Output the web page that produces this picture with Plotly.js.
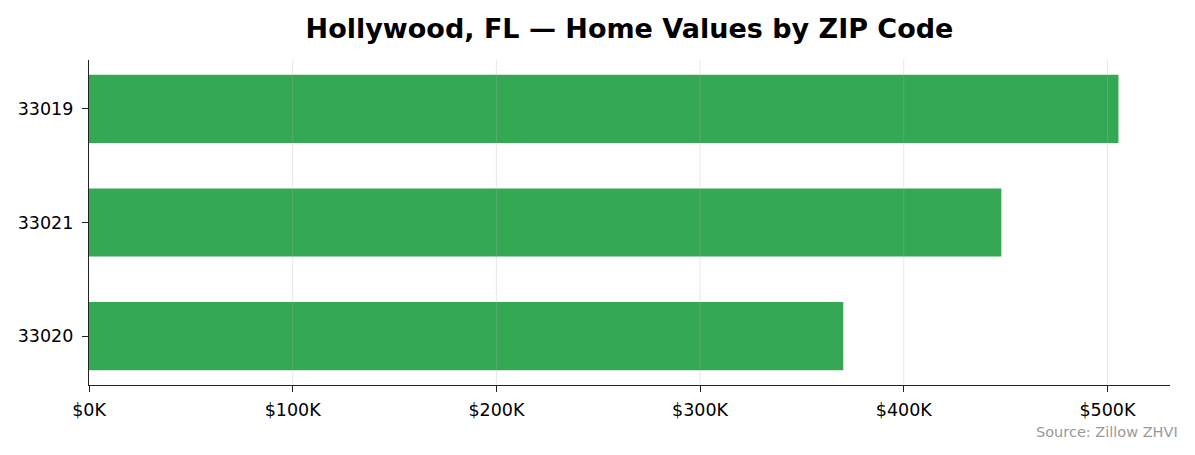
<!DOCTYPE html>
<html>
<head>
<meta charset="utf-8">
<script src="https://cdn.plot.ly/plotly-3.0.1.min.js"></script>
<style>
  html, body { margin: 0; padding: 0; background: #fff; }
  #chart { width: 1195px; height: 455px; }
</style>
</head>
<body>
<div id="chart"></div>
<script>
'use strict';

// ZIP codes, top to bottom as drawn
const zips = ['33019', '33021', '33020'];
// typical home value, dollars
const homeValues = [505400, 447900, 370300];
const tickVals = [0, 100000, 200000, 300000, 400000, 500000];
const tickText = ['$0K', '$100K', '$200K', '$300K', '$400K', '$500K'];

const font = 'DejaVu Sans, sans-serif';

const trace = {
	type: 'bar',
	orientation: 'h',
	y: zips,
	x: homeValues,
	width: 0.6,
	marker: { color: '#34a853' },
	hoverinfo: 'x+y'
};

// grid lines sit on top of the bars, faintly
const gridShapes = tickVals.slice(1).map(function(v) {
	return {
		type: 'line', layer: 'above',
		xref: 'x', yref: 'paper',
		x0: v, x1: v, y0: 0, y1: 1,
		line: { color: 'rgba(176,176,176,0.3)', width: 1 }
	};
});

const layout = {
	width: 1195,
	height: 455,
	margin: { l: 89, r: 25, t: 60, b: 70 },
	paper_bgcolor: '#fff',
	plot_bgcolor: '#fff',
	font: { family: font, size: 17.5, color: '#000' },
	showlegend: false,
	title: {
		text: '<b>Hollywood, FL — Home Values by ZIP Code</b>',
		font: { family: font, size: 27, color: '#000' },
		xref: 'paper', x: 0.5, xanchor: 'center',
		y: 0.938, yanchor: 'middle'
	},
	xaxis: {
		range: [0, 530700],
		tickvals: tickVals,
		ticktext: tickText,
		showgrid: false,
		zeroline: false,
		showline: true,
		linecolor: '#222',
		linewidth: 1.2,
		ticks: 'outside',
		ticklen: 6,
		tickcolor: '#222',
		ticklabelstandoff: 3,
		tickfont: { family: font, size: 17.5, color: '#000' },
		fixedrange: true
	},
	yaxis: {
		type: 'category',
		categoryorder: 'array',
		categoryarray: zips.slice().reverse(),
		range: [-0.43, 2.43],
		showgrid: false,
		zeroline: false,
		showline: true,
		linecolor: '#222',
		linewidth: 1.2,
		ticks: 'outside',
		ticklen: 6,
		tickcolor: '#222',
		ticklabelstandoff: 5,
		tickfont: { family: font, size: 17.5, color: '#000' },
		fixedrange: true
	},
	shapes: gridShapes,
	annotations: [{
		text: 'Source: Zillow ZHVI',
		xref: 'paper', yref: 'paper',
		x: 1.009, y: -0.145,
		xanchor: 'right', yanchor: 'middle',
		showarrow: false,
		font: { family: font, size: 14.5, color: '#999' }
	}]
};

Plotly.newPlot('chart', [trace], layout, { displayModeBar: false, staticPlot: true });
</script>
</body>
</html>
